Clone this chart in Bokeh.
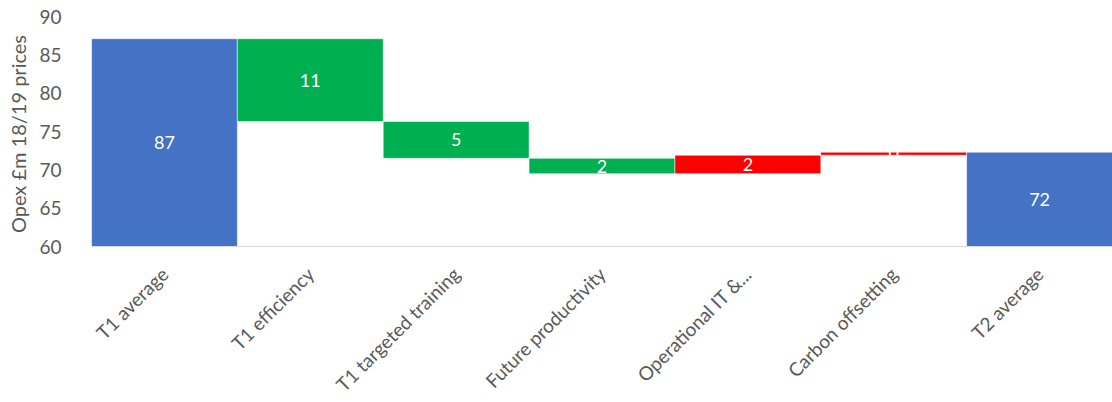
import math
from bokeh.plotting import figure
from bokeh.models import ColumnDataSource, FactorRange, Range1d, FixedTicker, LabelSet
from bokeh.core.properties import value
from bokeh.embed import file_html
from bokeh.resources import INLINE

categories = ["T1 average", "T1 efficiency", "T1 targeted training", "Future productivity",
              "Operational IT &...", "Carbon offsetting", "T2 average"]
start_value = 87.1
steps = [-10.8, -4.8, -2.0, 2.4, 0.4]
end_value = 72.3
y_ticks = [60, 65, 70, 75, 80, 85, 90]

BLUE = "#4472C4"
GREEN = "#00B050"
RED = "#FF0000"
FONT = "Lato"
GREY = "#595959"

bottoms, tops, colors, labels = [], [], [], []
bottoms.append(60); tops.append(start_value); colors.append(BLUE); labels.append(f"{round(start_value)}")
level = start_value
for s in steps:
    nxt = level + s
    bottoms.append(min(level, nxt)); tops.append(max(level, nxt))
    colors.append(GREEN if s < 0 else RED)
    labels.append(f"{int(abs(s) + 0.5)}")
    level = nxt
bottoms.append(60); tops.append(end_value); colors.append(BLUE); labels.append(f"{round(end_value)}")
mids = [(b + t) / 2 for b, t in zip(bottoms, tops)]

src = ColumnDataSource(dict(x=categories, bottom=bottoms, top=tops, color=colors, label=labels, mid=mids))

p = figure(x_range=FactorRange(*categories, range_padding=0), y_range=Range1d(60, 90),
           width=1112, height=402, output_backend="svg", toolbar_location=None,
           min_border_left=91, min_border_right=0, min_border_top=16, min_border_bottom=156)
p.frame_width = 1021
p.frame_height = 230
p.outline_line_color = None
p.grid.grid_line_color = None
p.background_fill_color = "white"

p.vbar(x="x", bottom="bottom", top="top", width=1.0, fill_color="color",
       line_color="white", line_alpha=0.5, line_width=1, source=src)

p.add_layout(LabelSet(x="x", y="mid", text="label", source=src, text_color="white",
                      text_font=value(FONT), text_font_size="18px", text_align="center",
                      text_baseline="middle"))

p.yaxis.ticker = FixedTicker(ticks=y_ticks)
p.yaxis.axis_line_color = None
p.yaxis.major_tick_line_color = None
p.yaxis.minor_tick_line_color = None
p.yaxis.major_label_text_font = FONT
p.yaxis.major_label_text_font_size = "19px"
p.yaxis.major_label_text_color = GREY
p.yaxis.major_label_standoff = 24
p.yaxis.axis_label = "Opex  £m 18/19 prices"
p.yaxis.axis_label_text_font = FONT
p.yaxis.axis_label_text_font_size = "20px"
p.yaxis.axis_label_text_font_style = "normal"
p.yaxis.axis_label_text_color = GREY
p.yaxis.axis_label_standoff = 6

p.xaxis.axis_line_color = "#d9d9d9"
p.xaxis.axis_line_width = 1
p.xaxis.major_tick_line_color = None
p.xaxis.minor_tick_line_color = None
p.xaxis.major_label_orientation = math.pi / 4
p.xaxis.major_label_text_font = FONT
p.xaxis.major_label_text_font_size = "19px"
p.xaxis.major_label_text_color = GREY
p.xaxis.major_label_standoff = 18

open("out.html", "w").write(file_html(p, INLINE))
